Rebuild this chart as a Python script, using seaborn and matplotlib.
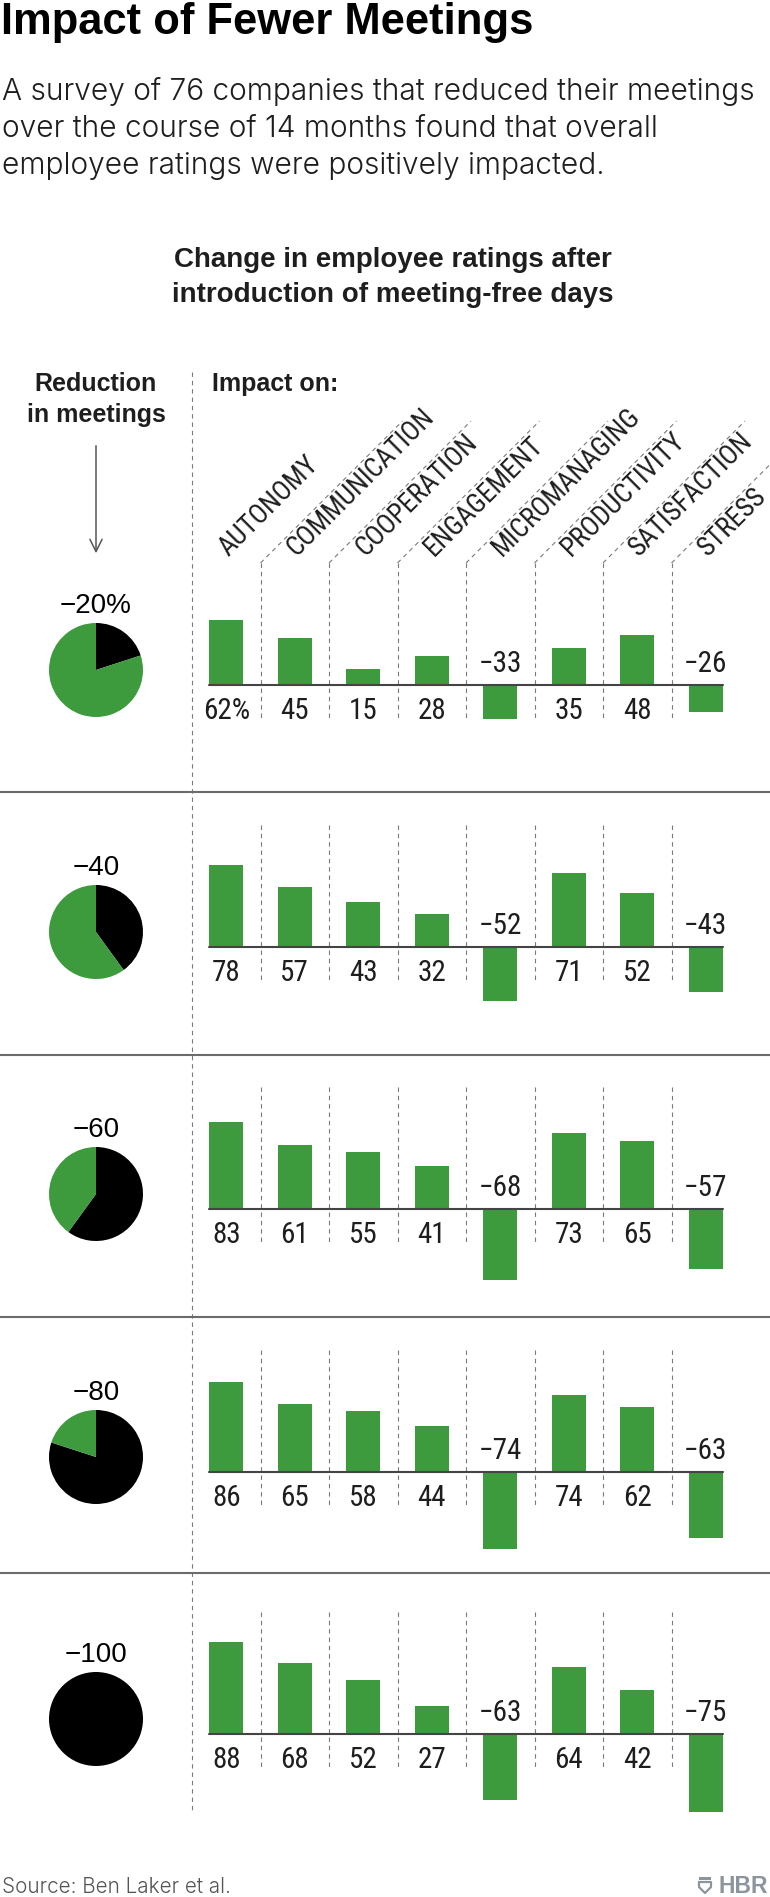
import matplotlib
matplotlib.use("Agg")
import numpy as np
import pandas as pd
import seaborn as sns
import matplotlib.pyplot as plt
from matplotlib import font_manager

# Dati: variazione delle valutazioni dei dipendenti per livello di riduzione delle riunioni
categories = ["AUTONOMY", "COMMUNICATION", "COOPERATION", "ENGAGEMENT",
              "MICROMANAGING", "PRODUCTIVITY", "SATISFACTION", "STRESS"]
reductions = [20, 40, 60, 80, 100]
reduction_labels = ["\u221220%", "\u221240", "\u221260", "\u221280", "\u2212100"]
impact_20 = [62, 45, 15, 28, -33, 35, 48, -26]
impact_40 = [78, 57, 43, 32, -52, 71, 52, -43]
impact_60 = [83, 61, 55, 41, -68, 73, 65, -57]
impact_80 = [86, 65, 58, 44, -74, 74, 62, -63]
impact_100 = [88, 68, 52, 27, -63, 64, 42, -75]
impacts = [impact_20, impact_40, impact_60, impact_80, impact_100]

title = "Impact of Fewer Meetings"
subtitle = ["A survey of 76 companies that reduced their meetings",
            "over the course of 14 months found that overall",
            "employee ratings were positively impacted."]
heading = ["Change in employee ratings after", "introduction of meeting-free days"]
source = "Source: Ben Laker et al."

df = pd.DataFrame([
    {"reduction": r, "category": c, "value": v}
    for r, vals in zip(reductions, impacts)
    for c, v in zip(categories, vals)
])

# Font disponibili
names = {f.name for f in font_manager.fontManager.ttflist}

def first(*cands):
    for c in cands:
        if c in names:
            return c
    return "DejaVu Sans"

SANS = first("Liberation Sans", "Arimo", "Roboto")
NARROW = first("Liberation Sans Narrow", "Roboto Condensed", "Archivo Narrow", "PT Sans Narrow", SANS)
light_names = {f.name for f in font_manager.fontManager.ttflist if str(f.weight) in ("300", "light")}
LIGHT = SANS
for c in ["Work Sans", "Libre Franklin", "Inter", "Roboto", "Lato", "Open Sans"]:
    if c in light_names:
        LIGHT = c
        break

sns.set_theme(style="white")
plt.rcParams["font.family"] = [SANS, "DejaVu Sans"]

GREEN = "#3d9a3d"
INK = "#1e1e1e"
DASH = "#7a7a7a"

W, H = 770, 1897
fig = plt.figure(figsize=(W / 100, H / 100), dpi=100)
fig.patch.set_facecolor("white")

# Asse di sovrapposizione in pixel (origine in alto a sinistra)
ov = fig.add_axes([0, 0, 1, 1], zorder=0)
ov.set_xlim(0, W)
ov.set_ylim(H, 0)
ov.axis("off")

renderer = fig.canvas.get_renderer()

def fit(t, width_px):
    w = t.get_window_extent(renderer).width
    t.set_fontsize(t.get_fontsize() * width_px / w)
    return t.get_fontsize()

# Titolo e sottotitolo
tt = ov.text(1, 34, title, fontsize=30, fontweight="bold", color="black",
             family=[SANS, "DejaVu Sans"], va="baseline", ha="left")
fit(tt, 532)
t0 = ov.text(2, 100, subtitle[0], fontsize=22, fontweight=300, color=INK,
             family=[LIGHT, "DejaVu Sans"], va="baseline", ha="left")
sub_size = fit(t0, 752)
for i, line in enumerate(subtitle[1:], start=1):
    ov.text(2, 100 + 37 * i, line, fontsize=sub_size, fontweight=300, color=INK,
            family=[LIGHT, "DejaVu Sans"], va="baseline", ha="left")

for i, line in enumerate(heading):
    ov.text(393, 267 + 35 * i, line, fontsize=20, fontweight="bold", color=INK,
            va="baseline", ha="center")

ov.text(96, 391, "Reduction", fontsize=18, fontweight="bold", color=INK, ha="center", va="baseline")
ov.text(96, 422, "in meetings", fontsize=18, fontweight="bold", color=INK, ha="center", va="baseline")
ov.text(212, 391, "Impact on:", fontsize=18, fontweight="bold", color=INK, ha="left", va="baseline")
ov.annotate("", xy=(96, 556), xytext=(96, 443),
            arrowprops=dict(arrowstyle="->", lw=1.1, color="#555555", mutation_scale=22))

# Geometria delle colonne e delle righe
X0, CW = 192, 68.5
PX = 1.045
BASE = [685, 947, 1209, 1472, 1734]
SEPS = [792, 1055, 1317, 1573]
dash_style = dict(color=DASH, lw=0.8, linestyle=(0, (4, 3.5)))

ov.plot([X0, X0], [372, 1812], **dash_style)
for y in SEPS:
    ov.plot([0, W], [y, y], color="#6b6b6b", lw=1.5, solid_capstyle="butt")

# Etichette delle categorie inclinate e linee tratteggiate oblique
for i, cat in enumerate(categories):
    cx = X0 + CW * (i + 0.5)
    ov.text(cx + 2, 557, cat, fontsize=19.5, color=INK, family=[NARROW, "DejaVu Sans"],
            rotation=45, rotation_mode="anchor", ha="left", va="baseline")
for k in range(1, len(categories)):
    sx = X0 + CW * k
    top = BASE[0] - 122
    ov.plot([sx, sx + 142], [top, top - 142], **dash_style)

for r, vals, rlabel, b in zip(reductions, impacts, reduction_labels, BASE):
    # separatori verticali interni
    for k in range(1, len(categories)):
        sx = X0 + CW * k
        ov.plot([sx, sx], [b - 122, b + 33], **dash_style)

    # barre
    ax = fig.add_axes([X0 / W, 1 - (b + 100) / H, CW * len(categories) / W, 230 / H], zorder=2)
    sub = df[df["reduction"] == r]
    sns.barplot(data=sub, x="category", y="value", order=categories, color=GREEN,
                saturation=1, width=0.49, errorbar=None, ax=ax, linewidth=0)
    ax.set_xlim(-0.5, len(categories) - 0.5)
    ax.set_ylim(-100 / PX, 130 / PX)
    ax.axhline(0, xmin=(0.5 - 0.245) / len(categories), xmax=1 - (0.5 - 0.245) / len(categories),
               color="#444444", lw=1.5, zorder=3)
    ax.axis("off")
    ax.patch.set_alpha(0)
    for i, v in enumerate(vals):
        txt = f"{v}%" if (r == reductions[0] and i == 0) else (f"{v}" if v >= 0 else f"\u2212{abs(v)}")
        y = -34 / PX if v >= 0 else 13 / PX
        ax.text(i, y, txt, fontsize=21, color=INK, family=[NARROW, "DejaVu Sans"],
                ha="center", va="baseline", clip_on=False)

    # torta della riduzione
    pax = fig.add_axes([(96 - 47) / W, 1 - (b - 15 + 47) / H, 94 / W, 94 / H], zorder=2)
    pax.pie([r, 100 - r], colors=["black", GREEN], startangle=90, counterclock=False,
            radius=1, wedgeprops=dict(linewidth=0))
    pax.set_xlim(-1, 1)
    pax.set_ylim(-1, 1)
    pax.set_aspect("equal")
    ov.text(96, b - 72, rlabel, fontsize=20, color="black", ha="center", va="baseline")

# Fonte e logo
st = ov.text(2, 1893, source, fontsize=15, fontweight=300, color="#555555",
             family=[LIGHT, "DejaVu Sans"], ha="left", va="baseline")
fit(st, 229)
ov.text(768, 1893, "HBR", fontsize=16.5, fontweight="bold", color="#8c959d",
        ha="right", va="baseline")
ov.fill([699, 711, 711, 699], [1877, 1877, 1880, 1880], color="#8c959d", lw=0)
ov.plot([699, 711, 711, 705, 699, 699], [1882, 1882, 1887, 1893, 1887, 1882],
        color="#8c959d", lw=1.6)

fig.savefig("out.png", dpi=100, facecolor="white")
